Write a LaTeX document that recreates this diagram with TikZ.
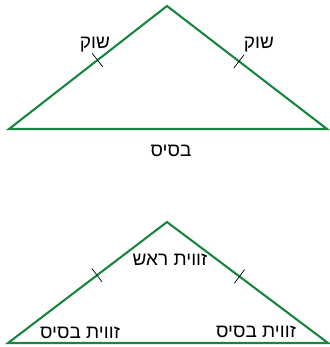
\documentclass[tikz,border=0pt]{standalone}
\usepackage{fontspec}
\setmainfont{Liberation Sans}
\newfontfamily\hebfont[Script=Hebrew]{Liberation Sans}
\TeXXeTstate=1
\usetikzlibrary{calc}
\definecolor{trigreen}{RGB}{24,133,64}
\tikzset{
  triside/.style={trigreen, line width=2.1pt, line join=miter},
  hashmark/.style={black, line width=0.7pt},
  heb/.style={font=\hebfont\fontsize{19}{21}\selectfont, inner sep=0pt}
}

\begin{document}
\begin{tikzpicture}[x=1pt,y=-1pt]
\useasboundingbox (0,0) rectangle (329,347);
% upper triangle
\coordinate (ua) at (167,6);
\coordinate (ul) at (9,129);
\coordinate (ur) at (327,129);
\draw[triside] (ul) -- (ua) -- (ur) -- cycle;
\coordinate (utl) at ($(ul)!0.56!(ua)$);
\coordinate (utr) at ($(ur)!0.55!(ua)$);
\draw[hashmark] ($(utl)!8.5pt!90:(ua)$) -- ($(utl)!8.5pt!-90:(ua)$);
\draw[hashmark] ($(utr)!8.5pt!90:(ua)$) -- ($(utr)!8.5pt!-90:(ua)$);
\node[heb] (legl) at (95,45) {\beginR שוק\endR};
\node[heb] (legr) at (259,45) {\beginR שוק\endR};
\node[heb] (base) at (171,151) {\beginR בסיס\endR};
% lower triangle
\coordinate (la) at (167,222);
\coordinate (ll) at (8,343);
\coordinate (lr) at (328,343);
\draw[triside] (ll) -- (la) -- (lr) -- cycle;
\coordinate (ltl) at ($(ll)!0.56!(la)$);
\coordinate (ltr) at ($(lr)!0.55!(la)$);
\draw[hashmark] ($(ltl)!8.5pt!90:(la)$) -- ($(ltl)!8.5pt!-90:(la)$);
\draw[hashmark] ($(ltr)!8.5pt!90:(la)$) -- ($(ltr)!8.5pt!-90:(la)$);
\node[heb] (apexang) at (170,260) {\beginR זווית ראש\endR};
\node[heb] (baseangl) at (80,333) {\beginR זווית בסיס\endR};
\node[heb] (baseangr) at (256,332) {\beginR זווית בסיס\endR};
\end{tikzpicture}
\end{document}
